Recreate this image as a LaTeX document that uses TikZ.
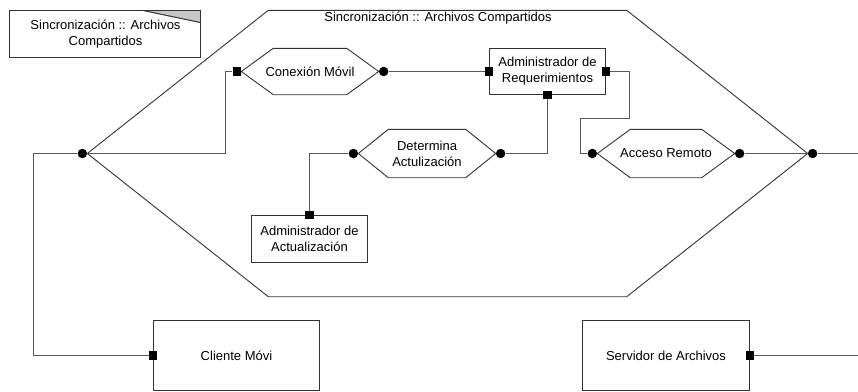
\documentclass[tikz,border=0pt]{standalone}
\usepackage{fontspec}
\setmainfont{Liberation Sans}
\newcommand{\drawhex}[2]{\draw[box] (#1.west) -- ([xshift=#2]#1.north west) -- ([xshift=-#2]#1.north east) -- (#1.east) -- ([xshift=-#2]#1.south east) -- ([xshift=#2]#1.south west) -- cycle;}
\begin{document}
\begin{tikzpicture}[x=1pt,y=-1pt,
  box/.style={draw=black!80, line width=0.9pt},
  conn/.style={draw=black!65, line width=0.9pt},
  dot/.style={circle, fill=black, inner sep=0pt, minimum size=9.5pt},
  sq/.style={rectangle, fill=black, inner sep=0pt, minimum size=8.5pt},
  lbl/.style={font=\fontsize{13}{16}\selectfont, align=center, inner sep=0pt},
  hexn/.style={lbl, minimum width=137pt, minimum height=47pt},
  rect/.style={lbl, box, rectangle}]
\useasboundingbox (0,0) rectangle (858,391);
\clip (0,0) rectangle (858,391);
\begin{scope}[shift={(0.5,0.5)}]
% note
\draw[box] (9,10) -- (143,10) -- (200,22) -- (200,57) -- (9,57) -- cycle;
\filldraw[fill=black!22, draw=black!80, line width=0.9pt] (143,10) -- (200,10) -- (200,22) -- cycle;
\node[lbl] (note) at (105,33.5) {Sincronización :: Archivos\\Compartidos};
% big container
\node[minimum width=720pt, minimum height=286pt, inner sep=0pt] (big) at (447,153) {};
\drawhex{big}{181pt}
\node[lbl, anchor=base] (title) at (437.5,21) {Sincronización :: Archivos Compartidos};
% hexagons
\node[hexn, minimum height=46pt] (con) at (309.5,71) {Conexión Móvil};
\drawhex{con}{32pt}
\node[hexn, minimum height=48pt] (det) at (426.5,153) {Determina\\Actulización};
\drawhex{det}{30pt}
\node[hexn, minimum height=48pt] (acc) at (665.5,153) {Acceso Remoto};
\drawhex{acc}{33pt}
% boxes
\node[rect, minimum width=116pt, minimum height=46pt] (req) at (547,71) {Administrador de\\Requerimientos};
\node[rect, minimum width=116pt, minimum height=47pt] (act) at (309,238.5) {Administrador de\\Actualización};
\node[rect, minimum width=166pt, minimum height=70pt] (cli) at (236,355) {Cliente Móvi};
\node[rect, minimum width=167pt, minimum height=70pt] (srv) at (665.5,355) {Servidor de Archivos};
% ports
\node[dot, anchor=east] (dotL) at (big.west) {};
\node[dot, anchor=west] (dotR) at (big.east) {};
\node[sq, anchor=east] (conSq) at (con.west) {};
\node[dot, anchor=west] (conDot) at (con.east) {};
\node[dot, anchor=east] (detDotL) at (det.west) {};
\node[dot, anchor=west] (detDotR) at (det.east) {};
\node[dot, anchor=east] (accDotL) at (acc.west) {};
\node[dot, anchor=west] (accDotR) at (acc.east) {};
\node[sq] (reqSqL) at (req.west) {};
\node[sq] (reqSqR) at (req.east) {};
\node[sq] (reqSqB) at (req.south) {};
\node[sq] (actSq) at (act.north) {};
\node[sq] (cliSq) at (cli.west) {};
\node[sq] (srvSq) at (srv.east) {};
% bend coordinates
\coordinate (bA) at (33,153);
\coordinate (bB) at (225,153);
\coordinate (bC) at (629,118);
\coordinate (bD) at (580,118);
\coordinate (exitR) at (860,153);
\coordinate (exitS) at (860,355);
% connectors
\draw[conn] (dotL) -- (bA) |- (cliSq);
\draw[conn] (dotL) -- (bB) |- (conSq);
\draw[conn] (conDot) -- (reqSqL);
\draw[conn] (reqSqR) -| (bC) -- (bD) |- (accDotL);
\draw[conn] (accDotR) -- (dotR);
\draw[conn] (dotR) -- (exitR);
\draw[conn] (detDotR) -| (reqSqB);
\draw[conn] (detDotL) -| (actSq);
\draw[conn] (srvSq) -- (exitS);
\end{scope}
\end{tikzpicture}
\end{document}
